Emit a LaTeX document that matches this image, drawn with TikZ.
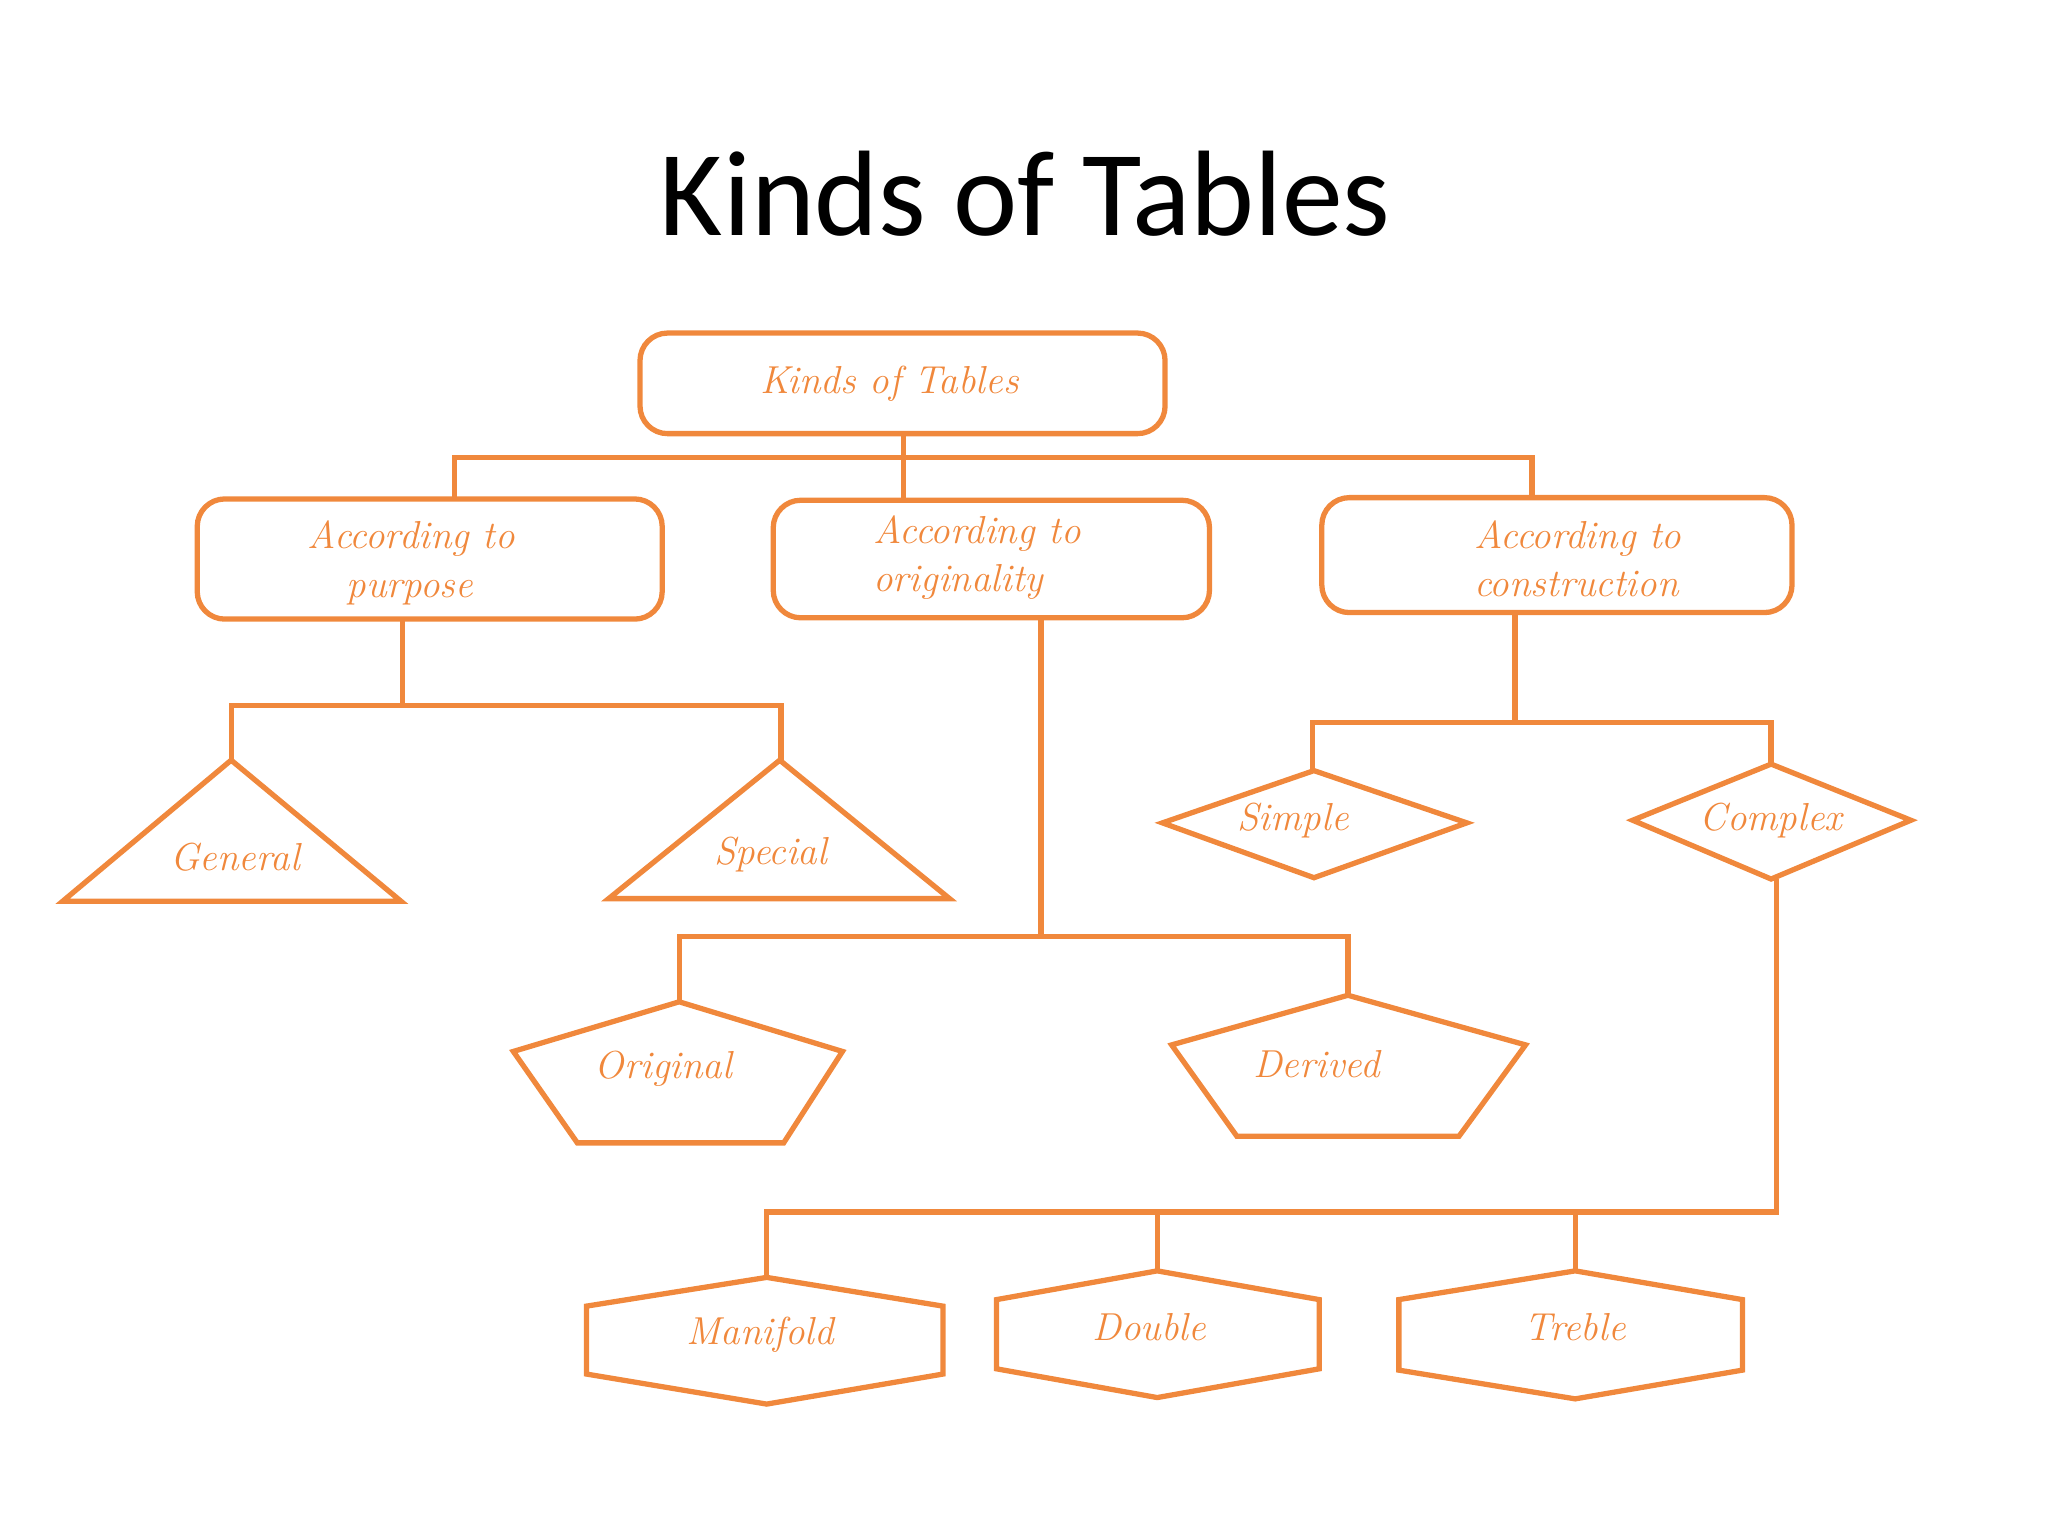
\documentclass[tikz,border=0pt]{standalone}
\usepackage{fontspec}
\setmainfont{Carlito}
\definecolor{org}{HTML}{F0883C}
\begin{document}
\begin{tikzpicture}[x=0.02cm,y=-0.02cm,
  ln/.style={draw=org,line width=2.3pt,line join=miter},
  lbl/.style={text=org,font=\fontsize{17}{21}\selectfont\fontspec{Latin Modern Roman}\itshape,align=left}]
\useasboundingbox (0,0) rectangle (1568,1176);
\node[font=\fontsize{53}{60}\selectfont] (title) at (785,148) {Kinds of Tables};
% boxes
\draw[ln,rounded corners=12pt] (490,255) rectangle (892,332);
\draw[ln,rounded corners=12pt] (151,382) rectangle (507,474);
\draw[ln,rounded corners=12pt] (592,383) rectangle (926,473);
\draw[ln,rounded corners=12pt] (1012,381) rectangle (1372,469);
\node[lbl] (k) at (681,294) {Kinds of Tables};
\node[lbl] (p) at (315,431) {According to\\ \hspace*{1em}purpose};
\node[lbl] (o) at (748,427) {According to\\originality};
\node[lbl] (c) at (1208,428) {According to\\construction};
% connectors top
\draw[ln] (692,332) -- (692,350);
\draw[ln] (348,382) -- (348,350) -- (1173,350) -- (1173,381);
\draw[ln] (692,350) -- (692,383);
% purpose
\draw[ln] (308,474) -- (308,540);
\draw[ln] (177,582) -- (177,540) -- (598,540) -- (598,582);
\draw[ln] (177,582) -- (307,690) -- (48,690) -- cycle;
\draw[ln] (597,582) -- (727,688) -- (466,688) -- cycle;
\node[lbl] (g) at (180,656) {General};
\node[lbl] (s) at (590,654) {Special};
% originality
\draw[ln] (797,473) -- (797,717);
\draw[ln] (520,767) -- (520,717) -- (1032,717) -- (1032,762);
\draw[ln] (520,767) -- (645,805) -- (600,875) -- (442,875) -- (393,805) -- cycle;
\draw[ln] (1032,762) -- (1168,800) -- (1117,870) -- (947,870) -- (897,800) -- cycle;
\node[lbl] (or) at (508,818) {Original};
\node[lbl] (d) at (1008,815) {Derived};
% construction
\draw[ln] (1160,469) -- (1160,553);
\draw[ln] (1005,590) -- (1005,553) -- (1356,553) -- (1356,585);
\draw[ln] (1006,590) -- (1123,630) -- (1006,672) -- (890,630) -- cycle;
\draw[ln] (1356,585) -- (1463,628) -- (1356,673) -- (1250,628) -- cycle;
\node[lbl] (si) at (990,628) {Simple};
\node[lbl] (co) at (1356,628) {Complex};
% complex
\draw[ln] (1360,673) -- (1360,928) -- (587,928) -- (587,978);
\draw[ln] (886,928) -- (886,973);
\draw[ln] (1206,928) -- (1206,973);
\draw[ln] (587,978) -- (722,1000) -- (722,1052) -- (587,1075) -- (449,1052) -- (449,1000) -- cycle;
\draw[ln] (886,973) -- (1010,995) -- (1010,1048) -- (886,1070) -- (763,1048) -- (763,995) -- cycle;
\draw[ln] (1206,973) -- (1334,995) -- (1334,1049) -- (1206,1071) -- (1071,1049) -- (1071,995) -- cycle;
\node[lbl] (m) at (582,1022) {Manifold};
\node[lbl] (db) at (880,1016) {Double};
\node[lbl] (t) at (1206,1016) {Treble};
\end{tikzpicture}
\end{document}
